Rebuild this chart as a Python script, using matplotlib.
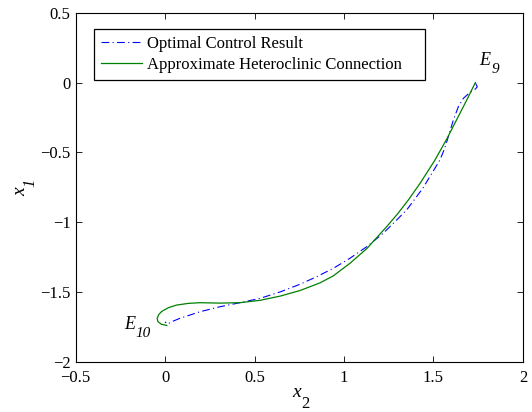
import matplotlib
matplotlib.use("Agg")
import matplotlib.pyplot as plt

plt.rcParams['font.family'] = ['Liberation Serif', 'DejaVu Serif']

# Optimal control result (x2, x1)
opt_x2 = [1.735, 1.745, 1.735, 1.700, 1.667, 1.639, 1.611, 1.583, 1.560, 1.536,
          1.440, 1.350, 1.294, 1.219, 1.127, 1.033, 0.940, 0.847, 0.754, 0.643,
          0.531, 0.419, 0.307, 0.195, 0.083, 0.040, 0.015, 0.000]
opt_x1 = [-0.005, -0.030, -0.045, -0.075, -0.113, -0.173, -0.269, -0.388, -0.480, -0.555,
          -0.758, -0.913, -0.985, -1.080, -1.176, -1.259, -1.331, -1.391, -1.445, -1.500,
          -1.546, -1.577, -1.606, -1.642, -1.689, -1.712, -1.730, -1.715]

# Approximate heteroclinic connection (x2, x1)
het_x2 = [0.010, -0.020, -0.040, -0.044, -0.035, -0.019, 0.020, 0.065, 0.130, 0.195,
          0.307, 0.419, 0.531, 0.643, 0.754, 0.866, 0.940, 1.033, 1.127, 1.238,
          1.300, 1.359, 1.425, 1.506, 1.574, 1.630, 1.686, 1.734]
het_x1 = [-1.740, -1.732, -1.712, -1.690, -1.662, -1.640, -1.612, -1.594, -1.582, -1.577,
          -1.580, -1.577, -1.560, -1.530, -1.490, -1.435, -1.385, -1.295, -1.190, -1.033,
          -0.940, -0.842, -0.722, -0.560, -0.405, -0.265, -0.125, 0.000]

xticks = [-0.5, 0, 0.5, 1, 1.5, 2]
yticks = [-2, -1.5, -1, -0.5, 0, 0.5]
xticklabels = ['\u22120.5', '0', '0.5', '1', '1.5', '2']
yticklabels = ['\u22122', '\u22121.5', '\u22121', '\u22120.5', '0', '0.5']

PX = 0.72  # points per pixel at 100 dpi

fig = plt.figure(figsize=(5.32, 4.12), dpi=100)
ax = fig.add_axes([0.142, 0.122, 0.841, 0.847])

ax.plot(opt_x2, opt_x1, color=(0, 0, 1), lw=0.8, linestyle=(0, (7, 3, 1, 3)),
        label='Optimal Control Result')
ax.plot(het_x2, het_x1, color=(0, 0.5, 0), lw=0.9, linestyle='-',
        label='Approximate Heteroclinic Connection\u00a0\u00a0\u00a0\u00a0')

ax.set_xlim(-0.5, 2)
ax.set_ylim(-2, 0.5)
ax.set_xticks(xticks)
ax.set_xticklabels(xticklabels)
ax.set_yticks(yticks)
ax.set_yticklabels(yticklabels)
ax.tick_params(direction='in', top=True, right=True, labelsize=12, length=4, width=0.6)
ax.tick_params(axis='x', pad=6)
for s in ax.spines.values():
    s.set_linewidth(0.8)

# axis labels: italic x with lowered subscript (MATLAB style)
fig.text(292 / 532, 1 - 397 / 412, 'x', style='italic', fontsize=14,
         ha='left', va='baseline')
fig.text(301 / 532, 1 - 408 / 412, '2', fontsize=12, ha='left', va='baseline')
fig.text(25 / 532, 1 - 196 / 412, 'x', style='italic', fontsize=14, rotation=90,
         rotation_mode='anchor', ha='left', va='baseline')
fig.text(34 / 532, 1 - 187 / 412, '1', style='italic', fontsize=12, rotation=90,
         rotation_mode='anchor', ha='left', va='baseline')

# equilibrium labels
def eq_label(x, y, sub):
    ax.annotate('E', xy=(x, y), xycoords='data', fontsize=13, style='italic',
                ha='left', va='baseline')
    ax.annotate(sub, xy=(x, y), xycoords='data', xytext=(12 * PX, -8 * PX),
                textcoords='offset points', fontsize=11, style='italic',
                ha='left', va='baseline')

eq_label(1.758, 0.125, '9')
eq_label(-0.23, -1.766, '10')

leg = ax.legend(loc='upper left', bbox_to_anchor=(0.041, 0.953), fontsize=12,
                frameon=True, fancybox=False, edgecolor='black', framealpha=1,
                borderpad=0.4, labelspacing=0.3, handlelength=2.5, handletextpad=0.3,
                borderaxespad=0)
leg.get_frame().set_linewidth(0.9)

fig.savefig('out.png', dpi=100)
